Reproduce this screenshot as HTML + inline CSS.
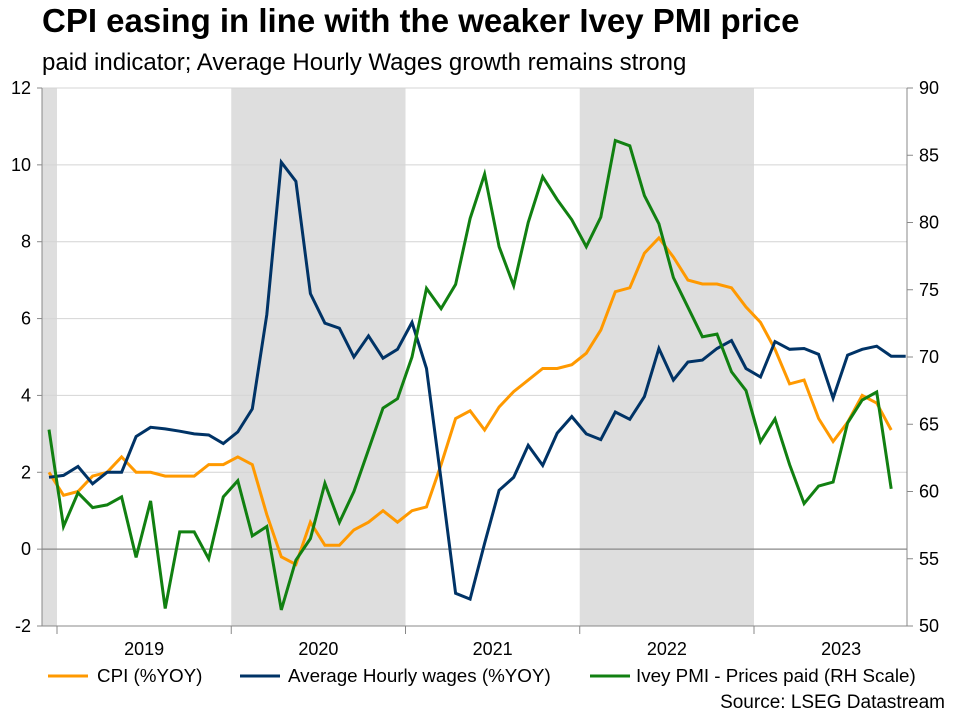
<!DOCTYPE html>
<html><head><meta charset="utf-8">
<style>
body{margin:0;background:#fff;font-family:"Liberation Sans",Arial,sans-serif;}
#wrap{position:relative;width:955px;height:715px;overflow:hidden;}
.t{position:absolute;white-space:nowrap;color:#000;}
</style></head>
<body>
<div id="wrap">
<div class="t" style="left:42px;top:2px;font-size:33px;font-weight:bold;">CPI easing in line with the weaker Ivey PMI price</div>
<div class="t" style="left:42px;top:49px;font-size:24px;">paid indicator; Average Hourly Wages growth remains strong</div>
<svg id="chart" width="955" height="715" style="position:absolute;left:0;top:0;font-family:'Liberation Sans',Arial,sans-serif;"></svg>
<div class="t" style="right:10px;top:692px;font-size:19px;">Source: LSEG Datastream</div>
</div>
<script>
const yearLabels=["2019","2020","2021","2022","2023"];
const leftTicks=[-2,0,2,4,6,8,10,12];
const rightTicks=[50,55,60,65,70,75,80,85,90];
// monthly from Dec 2018
const cpi=[2.0,1.4,1.5,1.9,2.0,2.4,2.0,2.0,1.9,1.9,1.9,2.2,2.2,2.4,2.2,0.9,-0.2,-0.4,0.7,0.1,0.1,0.5,0.7,1.0,0.7,1.0,1.1,2.2,3.4,3.6,3.1,3.7,4.1,4.4,4.7,4.7,4.8,5.1,5.7,6.7,6.8,7.7,8.1,7.6,7.0,6.9,6.9,6.8,6.3,5.9,5.2,4.3,4.4,3.4,2.8,3.3,4.0,3.8,3.1];
const wages=[1.87,1.92,2.15,1.7,2.0,2.0,2.93,3.17,3.13,3.07,3.0,2.97,2.75,3.05,3.65,6.1,10.07,9.57,6.65,5.88,5.75,5.0,5.55,4.97,5.2,5.9,4.7,1.8,-1.15,-1.3,0.15,1.53,1.87,2.7,2.18,3.02,3.45,3.0,2.85,3.57,3.38,3.97,5.22,4.4,4.87,4.92,5.22,5.43,4.7,4.48,5.4,5.2,5.22,5.07,3.93,5.05,5.2,5.28,5.02,5.02];
const ivey=[64.6,57.4,59.9,58.8,59.0,59.6,55.1,59.3,51.3,57.0,57.0,55.0,59.6,60.8,56.7,57.4,51.2,54.9,56.5,60.6,57.7,60.0,63.1,66.2,66.9,70.0,75.1,73.6,75.4,80.3,83.6,78.2,75.3,80.0,83.4,81.7,80.2,78.2,80.4,86.1,85.7,82.0,79.9,75.9,73.7,71.5,71.7,68.9,67.5,63.7,65.4,62.0,59.1,60.4,60.7,65.1,66.8,67.4,60.2];
const shadeMonths=[[0,1],[13,25],[37,49]];

const L=42,R=907,T=88,B=626;
const x0=57, perMonth=(754-57)/48;
function xp(i){return 49+i*perMonth;}
function xb(m){return x0+(m-1)*perMonth;}
function yl(v){return B-(v+2)/14*(B-T);}
function yr(v){return B-(v-50)/40*(B-T);}
const svg=document.getElementById('chart');
const NS='http://www.w3.org/2000/svg';
function mk(tag,attrs,parent){const e=document.createElementNS(NS,tag);for(const k in attrs)e.setAttribute(k,attrs[k]);(parent||svg).appendChild(e);return e;}

shadeMonths.forEach((s,k)=>{
  const xa=Math.max(L,xb(s[0])), xe=xb(s[1]);
  const r=mk('rect',{x:xa,y:T,width:xe-xa,height:B-T,fill:'#dedede'});
  
  
});
leftTicks.forEach(v=>{
  const y=yl(v);
  const g=mk('line',{x1:L,x2:R,y1:y,y2:y,stroke:v===0?'#888':'#d4d4d4','stroke-width':v===0?1.2:1});
  
  
  const t=mk('text',{x:31,y:y+6,'text-anchor':'end','font-size':18});
  t.textContent=v;
  
  
  mk('line',{x1:L-5,x2:L,y1:y,y2:y,stroke:'#888'});
});
rightTicks.forEach(v=>{
  const y=yr(v);
  mk('line',{x1:R,x2:R+6,y1:y,y2:y,stroke:'#888'});
  const t=mk('text',{x:R+12,y:y+6,'font-size':18});
  t.textContent=v;
  
  
});
mk('line',{x1:L,x2:L,y1:T,y2:B,stroke:'#888'});
mk('line',{x1:R,x2:R,y1:T,y2:B,stroke:'#888'});
mk('line',{x1:L,x2:R,y1:B,y2:B,stroke:'#888'});
yearLabels.forEach((yl_,k)=>{
  const xa=xb(1+12*k);
  mk('line',{x1:xa,x2:xa,y1:B,y2:B+8,stroke:'#888'});
  const t=mk('text',{x:xa+perMonth*6,y:B+29,'text-anchor':'middle','font-size':18});
  t.textContent=yl_;
  
  
});
function line(arr,fy,color,name){
  const p=mk('polyline',{points:arr.map((v,i)=>xp(i).toFixed(1)+','+fy(v).toFixed(1)).join(' '),fill:'none',stroke:color,'stroke-width':3,'stroke-linejoin':'miter'});
  
  
}
line(cpi,yl,'#ff9900','cpi-line');
line(wages,yl,'#003366','wages-line');
line(ivey,yr,'#118011','ivey-pmi-line');
const leg=[['CPI (%YOY)','#ff9900',48,97],['Average Hourly wages (%YOY)','#003366',240,288],['Ivey PMI - Prices paid (RH Scale)','#118011',590,636]];
leg.forEach(l=>{
  const g=mk('g',{});
  
  
  mk('line',{x1:l[2],x2:l[2]+40,y1:676,y2:676,stroke:l[1],'stroke-width':3},g);
  const t=mk('text',{x:l[3],y:682,'font-size':18.8},g);
  t.textContent=l[0];
});
</script>
</body></html>
